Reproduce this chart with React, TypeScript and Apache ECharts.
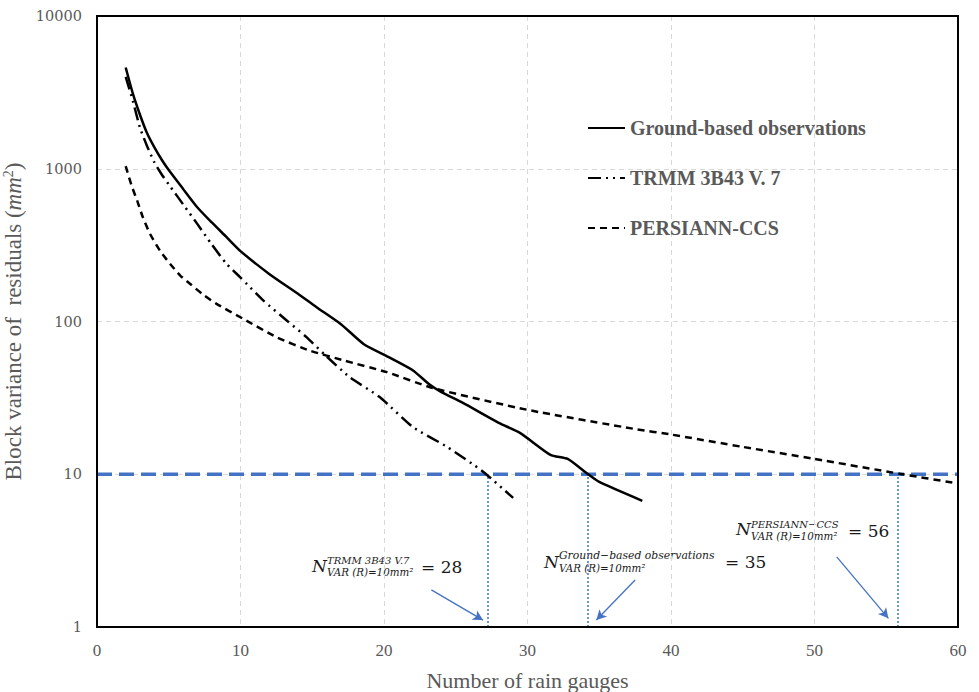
import React, { useEffect, useRef } from "react";
import * as echarts from "echarts";

// ---- data ----
const groundData: number[][] = [
  [2, 4600], [2.5, 3100], [3, 2250], [3.5, 1700], [4, 1380], [4.5, 1150], [5, 980], [6, 738], [7, 558],
  [8, 445], [9, 359], [10, 289], [12, 205], [14, 152], [15.3, 124], [17, 96], [18.6, 71],
  [20.4, 58], [22, 48], [23.2, 38.5], [24, 34.5], [25.5, 29.3], [28, 21.7], [29.5, 18.6],
  [31.6, 13.4], [32.8, 12.6], [34.1, 10.2], [35, 8.9], [38, 6.7],
];
const trmmData: number[][] = [
  [2, 4000], [2.5, 2780], [3, 1850], [3.5, 1400], [4, 1100], [4.5, 920], [5, 790], [6, 585], [7, 434],
  [8, 319], [9, 240], [10, 194], [11.6, 137], [13.2, 102], [14.6, 79], [15.8, 61.5],
  [17.6, 43.3], [19.7, 32], [22, 20.4], [24.4, 15.1], [26.9, 10.4], [29, 7.0],
];
const persiannData: number[][] = [
  [2, 1040], [2.4, 780], [2.8, 618], [3.2, 480], [3.7, 374], [4.4, 290], [5.1, 238], [5.8, 200],
  [6.5, 176], [7.4, 150], [8.3, 131], [10.2, 104],
  [12.5, 79], [14.8, 64.6], [17.2, 55.6], [20.2, 46.6], [23.4, 36.7], [30, 26.4],
  [37.6, 19.7], [40, 18.2], [45, 15.1], [50, 12.6], [56, 10.05], [60, 8.7],
];
const seriesNames = ["Ground-based observations", "TRMM 3B43 V. 7", "PERSIANN-CCS"];
const thresholdValue = 10;
const thresholdRange = [0, 60];
const crossingX = [27.2, 34.2, 55.8]; // TRMM, Ground, PERSIANN
const arrowStarts: number[][] = [[23.3, 1.75], [37.5, 2.03], [51.55, 2.88]];
const arrowEnds: number[][] = [[26.9, 1.11], [34.8, 1.11], [55.15, 1.14]];
const xTickInterval = 10;

const serif = "Liberation Serif";
const mathFont = "DejaVu Serif";
const gray = "#595959";
const blue = "#4472C4";

function annotation(
  nx: number, ny: number, sup: string, supY: number, sub: string, subY: number,
  eq: string, eqX: number, eqY: number, supSize: number
) {
  const base = { fill: "#1a1a1a", verticalAlign: "middle" as const, align: "left" as const };
  return [
    { type: "text", x: nx, y: ny, style: { ...base, text: "N", font: `italic 17px "${mathFont}"` } },
    { type: "text", x: nx + 15, y: supY, style: { ...base, text: sup, font: `italic ${supSize}px "${mathFont}"` } },
    { type: "text", x: nx + 15, y: subY, style: { ...base, text: sub, font: `italic 10.3px "${mathFont}"` } },
    { type: "text", x: eqX, y: eqY, style: { ...base, text: eq, font: `17px "${mathFont}"` } },
  ];
}

export default function App() {
  const ref = useRef<HTMLDivElement>(null);
  useEffect(() => {
    if (!ref.current) return;
    const chart = echarts.init(ref.current, null, { renderer: "svg" });
    const lineBase = { type: "line", symbol: "none", smooth: 0.2, z: 5 };
    chart.setOption({
      animation: false,
      backgroundColor: "#ffffff",
      grid: {
        left: 97, right: 21, top: 16, bottom: 65, show: true,
        containLabel: false, outerBoundsMode: "none",
        borderColor: "#000", borderWidth: 2, backgroundColor: "transparent", z: 10,
      },
      legend: {
        data: seriesNames,
        orient: "vertical",
        left: 582,
        top: 113,
        itemWidth: 37,
        itemHeight: 14,
        itemGap: 30,
        itemStyle: { opacity: 0 },
        textStyle: { fontFamily: serif, fontWeight: "bold", fontSize: 20, color: gray },
      },
      xAxis: {
        type: "value",
        min: 0,
        max: 60,
        interval: xTickInterval,
        name: "Number of rain gauges",
        nameLocation: "middle",
        nameGap: 42,
        nameTextStyle: { fontFamily: serif, fontSize: 22, color: gray },
        axisLine: { show: true, lineStyle: { color: "#000", width: 2 } },
        axisTick: { show: false },
        axisLabel: { fontFamily: serif, fontSize: 17, color: gray, margin: 15 },
        splitLine: { show: true, lineStyle: { color: "#d9d9d9", type: [5, 4], width: 1 } },
      },
      yAxis: {
        type: "log",
        logBase: 10,
        min: 1,
        max: 10000,
        name: "{a|Block variance of  residuals (}{i|mm}{s|2}{a|)}",
        nameLocation: "middle",
        nameGap: 58,
        nameRotate: 90,
        nameTextStyle: {
          rich: {
            a: { fontFamily: serif, fontSize: 23, color: gray },
            i: { fontFamily: serif, fontSize: 23, fontStyle: "italic", color: gray },
            s: { fontFamily: serif, fontSize: 14, color: gray, verticalAlign: "top", lineHeight: 14 },
          },
        },
        axisLine: { show: true, lineStyle: { color: "#000", width: 2 } },
        axisTick: { show: false },
        axisLabel: {
          fontFamily: mathFont, fontSize: 14.5, color: gray, margin: 15,
          formatter: (v: number) => String(Math.round(v)),
        },
        splitLine: { show: true, lineStyle: { color: "#d9d9d9", type: [5, 4], width: 1 } },
      },
      series: [
        {
          ...lineBase,
          name: seriesNames[0],
          data: groundData,
          lineStyle: { color: "#000", width: 2.5, type: "solid" },
          itemStyle: { color: "#000" },
        },
        {
          ...lineBase,
          name: seriesNames[1],
          data: trmmData,
          lineStyle: { color: "#000", width: 2.5, type: [13, 5, 2, 5, 2, 5] },
          itemStyle: { color: "#000" },
        },
        {
          ...lineBase,
          name: seriesNames[2],
          data: persiannData,
          lineStyle: { color: "#000", width: 2.5, type: [7, 5] },
          itemStyle: { color: "#000" },
        },
        {
          type: "line",
          name: "threshold",
          symbol: "none",
          silent: true,
          z: 4,
          data: thresholdRange.map((x) => [x, thresholdValue]),
          lineStyle: { color: blue, width: 3.5, type: [15, 7] },
          markLine: {
            silent: true,
            symbol: ["none", "none"],
            label: { show: false },
            lineStyle: { color: blue, width: 1.5, type: [2, 2] },
            data: crossingX.map((x) => [{ coord: [x, 1] }, { coord: [x, thresholdValue] }]),
          },
        },
        {
          type: "line",
          name: "arrows",
          symbol: "none",
          silent: true,
          data: [],
          markLine: {
            silent: true,
            symbol: ["none", "arrow"],
            symbolSize: [8, 10],
            label: { show: false },
            lineStyle: { color: blue, width: 1.3, type: "solid" },
            data: arrowStarts.map((s, i) => [{ coord: s }, { coord: arrowEnds[i] }]),
          },
        },
      ],
      graphic: [
        ...annotation(312, 566, "TRMM 3B43 V.7", 560, "VAR (R)=10mm²", 572, "= 28", 421, 567, 10),
        ...annotation(544, 562, "Ground\u2212based observations", 555, "VAR (R)=10mm²", 568, "= 35", 725, 562, 10.8),
        ...annotation(736, 529, "PERSIANN\u2212CCS", 524, "VAR (R)=10mm²", 536, "= 56", 848, 531, 10),
      ],
    });
    return () => chart.dispose();
  }, []);
  return (
    <div
      ref={ref}
      style={{ position: "fixed", left: 0, top: 0, width: 979, height: 692, background: "#fff" }}
    />
  );
}
